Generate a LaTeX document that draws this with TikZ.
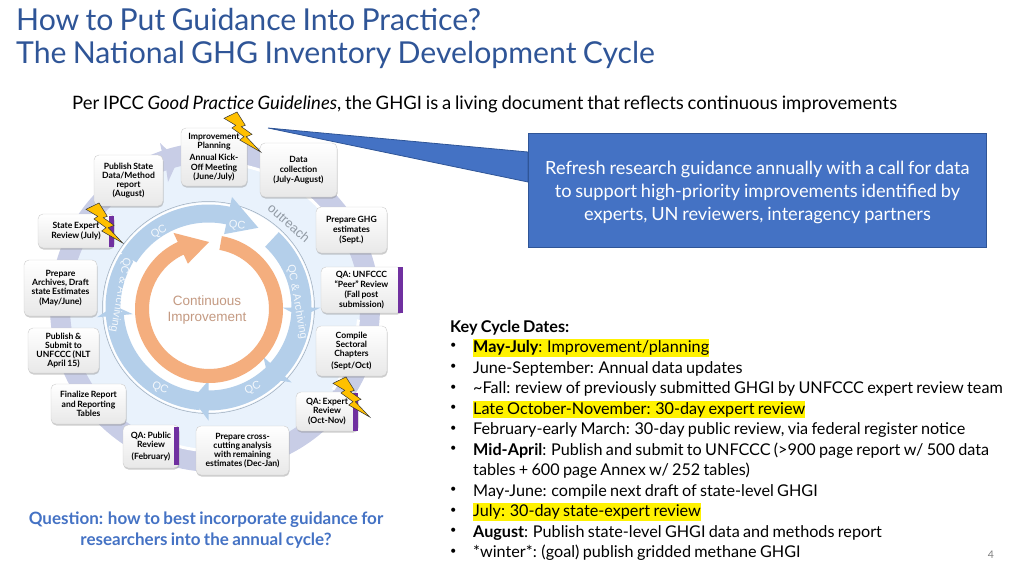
\documentclass[tikz,border=0pt]{standalone}
\usepackage{fontspec}
\setmainfont[WordSpace=0.8]{Lato}
\newfontfamily\ringfont{Liberation Sans}
\usetikzlibrary{shadows}
\definecolor{titleblue}{HTML}{2F5597}
\definecolor{boxblue}{HTML}{4472C4}
\definecolor{ringblue}{HTML}{B4CFEA}
\definecolor{ringlav}{HTML}{C8CDE6}
\definecolor{ringpale}{HTML}{E9F2FC}
\definecolor{ringorange}{HTML}{F4AE7E}
\definecolor{centrebrown}{HTML}{C49A82}
\definecolor{barpurple}{HTML}{7030A0}
\definecolor{boltgold}{HTML}{FFC000}
% arc with an arrow head: start, tip, inner r, outer r, head length, head overhang
\newcommand{\ringarrow}[6]{
    (#1:#4) arc[start angle=#1, end angle=#2-#5, radius=#4]
        -- ({#2-#5}:#4+#6) -- (#2:{(#3+#4)/2}) -- ({#2-#5}:#3-#6) -- ({#2-#5}:#3)
        arc[start angle=#2-#5, end angle=#1, radius=#3] -- cycle
}
\tikzset{
    stepbox/.style={draw=gray!40, rounded corners=5pt, top color=white, bottom color=gray!18,
        drop shadow={shadow xshift=0.5pt, shadow yshift=-1.5pt, opacity=0.4},
        align=center, font=\fontsize{8.6}{9.2}\selectfont\bfseries, inner sep=0pt},
    purplebar/.style={fill=barpurple},
    keyline/.style={anchor=west, inner sep=0pt, yshift=-1.5pt, font=\fontsize{16.2}{20}\selectfont},
    keymark/.style={keyline, fill=yellow, inner ysep=1.5pt},
    keydot/.style={anchor=west, inner sep=0pt, font=\fontsize{11}{12}\selectfont},
    ringlabel/.style={text=white, font=\ringfont\fontsize{11}{11}\selectfont, opacity=0.85},
    bolt/.pic={
        \draw[fill=boltgold, draw=black!80, line width=0.5pt, line join=miter]
            (0,6.3) -- (13,0) -- (21.3,13.3) -- (17.3,14.7) -- (28,22.3) -- (22.3,24.7) -- (36.7,40)
            -- (15.7,28) -- (20,24.7) -- (8,16) -- (11.7,13.3) -- cycle;
    }
}
\begin{document}
\begin{tikzpicture}[x=1pt, y=-1pt]
    \useasboundingbox (0,0) rectangle (1024,576);

    % title and intro line
    \node[anchor=west, inner sep=0pt, text=titleblue, font=\fontsize{30.2}{35}\selectfont] (title1) at (16,19) {How to Put Guidance Into Practice?};
    \node[anchor=west, inner sep=0pt, text=titleblue, font=\fontsize{30.2}{35}\selectfont] (title2) at (16,54.5) {The National GHG Inventory Development Cycle};
    \node[anchor=west, inner sep=0pt, font=\fontsize{18.5}{20}\selectfont] (intro) at (72,104.5) {Per IPCC \textit{Good Practice Guidelines}, the GHGI is a living document that reflects continuous improvements};

    % outer ring
    \begin{scope}[shift={(215,307)}]
        \fill[ringpale] (0,0) circle[radius=146];
        \draw[ringlav, line width=20pt] (0,0) circle[radius=155];
        \draw[white, line width=3pt] (275:144) arc[start angle=275, end angle=335, radius=144];
        \draw[white, line width=3pt] (5:144) arc[start angle=5, end angle=35, radius=144];
        \draw[white, line width=3pt] (60:144) arc[start angle=60, end angle=105, radius=144];
    \end{scope}
    \fill[ringlav] (160,143) -- (178,160) -- (168,182) -- (166,168) -- (150,172) -- (150,158) -- (163,157) -- cycle;

    % inner rings
    \begin{scope}[shift={(208.5,307.5)}]
        \fill[white] (0,0) circle[radius=105];
        \draw[gray!45!ringblue, line width=0.5pt] (0,0) circle[radius=106];
        \fill[ringblue] \ringarrow{212}{302}{85}{103}{20}{10};
        \fill[ringblue] \ringarrow{313}{366}{83}{103}{6}{9};
        \fill[ringblue] \ringarrow{360}{410}{83}{103}{8}{9};
        \fill[ringblue] \ringarrow{405}{460}{83}{103}{10}{10};
        \fill[ringblue] \ringarrow{455}{541}{85}{103}{6}{9};
        \fill[ringblue] \ringarrow{536}{575}{88}{103}{4}{0};
    \end{scope}
    \begin{scope}[shift={(209,309)}]
        \fill[ringorange] \ringarrow{280}{630}{60}{74}{25}{10};
    \end{scope}

    % ring labels
    \node[ringlabel, rotate=30] (qc1) at (159,232) {QC};
    \node[ringlabel, rotate=-6] (qc2) at (237,226) {QC};
    \node[ringlabel, rotate=-25] (qc3) at (160,388) {QC};
    \node[ringlabel, rotate=25] (qc4) at (253,388) {QC};
    \node[ringlabel, rotate=-100] (arch1) at (120,295) {QC \& Archiving};
    \node[ringlabel, rotate=-80] (arch2) at (297,302) {QC \& Archiving};
    \node[text=gray!65!ringblue, rotate=-41, font=\ringfont\fontsize{13}{13}\selectfont] (outreach) at (289,223) {outreach};
    \node[text=centrebrown, font=\ringfont\fontsize{13.5}{16}\selectfont, align=center] (centre) at (207,310) {Continuous\\Improvement};

    % cycle steps
    \node[stepbox, minimum width=66pt, minimum height=58pt] (improve) at (214,157) {Improvement\\Planning\\[3pt]Annual Kick-\\Off Meeting\\(June/July)};
    \node[stepbox, minimum width=77pt, minimum height=54pt] (datacoll) at (298.5,170) {Data\\[1pt]collection\\[1pt](July-August)};
    \node[stepbox, minimum width=71pt, minimum height=46pt] (estimates) at (351.5,230) {Prepare GHG\\[1pt]estimates\\[1pt](Sept.)};
    \node[stepbox, minimum width=81pt, minimum height=46pt] (unfccc) at (361.5,290) {QA: UNFCCC\\[1pt]``Peer'' Review\\[1pt](Fall post\\[1pt]submission)};
    \node[stepbox, minimum width=71pt, minimum height=50pt] (compile) at (351.5,351) {Compile\\Sectoral\\Chapters\\[3pt](Sept/Oct)};
    \node[stepbox, minimum width=62pt, minimum height=39pt] (expert) at (327,411.5) {QA: Expert\\Review\\(Oct-Nov)};
    \node[stepbox, minimum width=93pt, minimum height=49pt] (crosscut) at (242.5,450.5) {Prepare cross-\\cutting analysis\\with remaining\\estimates (Dec-Jan)};
    \node[stepbox, minimum width=56pt, minimum height=43pt] (public) at (151,446.5) {QA: Public\\Review\\[3pt](February)};
    \node[stepbox, minimum width=75pt, minimum height=40pt] (finalize) at (88.5,404) {Finalize Report\\and Reporting\\Tables};
    \node[stepbox, minimum width=71pt, minimum height=45pt] (submit) at (63.5,350.5) {Publish \&\\Submit to\\UNFCCC (NLT\\April 15)};
    \node[stepbox, minimum width=73pt, minimum height=56pt] (archives) at (60.5,288) {Prepare\\Archives, Draft\\state Estimates\\(May/June)};
    \node[stepbox, minimum width=76pt, minimum height=34pt] (stateqa) at (76,231) {State Expert\\Review (July)};
    \node[stepbox, minimum width=69pt, minimum height=51pt] (publish) at (128.5,180.5) {Publish State\\Data/Method\\report\\(August)};

    % purple review bars
    \fill[purplebar] (398,267) rectangle (403,313);
    \fill[purplebar] (353,393) rectangle (358,431);
    \fill[purplebar] (174,427) rectangle (179,465);
    \fill[purplebar] (109,216) rectangle (114,247);

    % lightning
    \pic at (86,203) {bolt};
    \pic at (224,112) {bolt};
    \pic at (333,377) {bolt};

    % callout
    \fill[boxblue, draw=titleblue, line width=0.8pt] (268,128) -- (528,152) -- (528,182) -- cycle;
    \node[fill=boxblue, draw=titleblue, line width=0.8pt, minimum width=458pt, minimum height=114pt, anchor=north west, text=white, align=center, inner sep=0pt, font=\fontsize{18.2}{23}\selectfont] (callout) at (528,133)
        {\rule{0pt}{18pt}Refresh research guidance annually with a call for data\\to support high-priority improvements identified by\\experts, UN reviewers, interagency partners};

    % key dates
    \node[keyline] (keyhead) at (450,326) {\bfseries Key Cycle Dates:};
    \node[keymark] (d1) at (473,346) {\textbf{May-July}: Improvement/planning};
    \node[keyline] (d2) at (473,367) {June-September: Annual data updates};
    \node[keyline] (d3) at (473,387.5) {\textasciitilde Fall: review of previously submitted GHGI by UNFCCC expert review team};
    \node[keymark] (d4) at (473,408) {Late October-November: 30-day expert review};
    \node[keyline] (d5) at (473,428.5) {February-early March: 30-day public review, via federal register notice};
    \node[keyline] (d6) at (473,449) {\textbf{Mid-April}: Publish and submit to UNFCCC (>900 page report w/ 500 data};
    \node[keyline] (d6b) at (473,469.5) {tables + 600 page Annex w/ 252 tables)};
    \node[keyline] (d7) at (473,490) {May-June: compile next draft of state-level GHGI};
    \node[keymark] (d8) at (473,510.5) {July: 30-day state-expert review};
    \node[keyline] (d9) at (473,531) {\textbf{August}: Publish state-level GHGI data and methods report};
    \node[keyline] (d10) at (473,551.5) {*winter*: (goal) publish gridded methane GHGI};
    \foreach \ypos in {346,367,387.5,408,428.5,449,490,510.5,531,551.5}
        \node[keydot] at (450,\ypos) {•};

    % question and page number
    \node[align=center, text=boxblue, font=\fontsize{17}{20.5}\selectfont\bfseries] (question) at (206,530) {Question: how to best incorporate guidance for\\researchers into the annual cycle?};
    \node[text=gray, font=\fontsize{10.5}{12}\selectfont] (pagenum) at (991,555) {4};
\end{tikzpicture}
\end{document}
